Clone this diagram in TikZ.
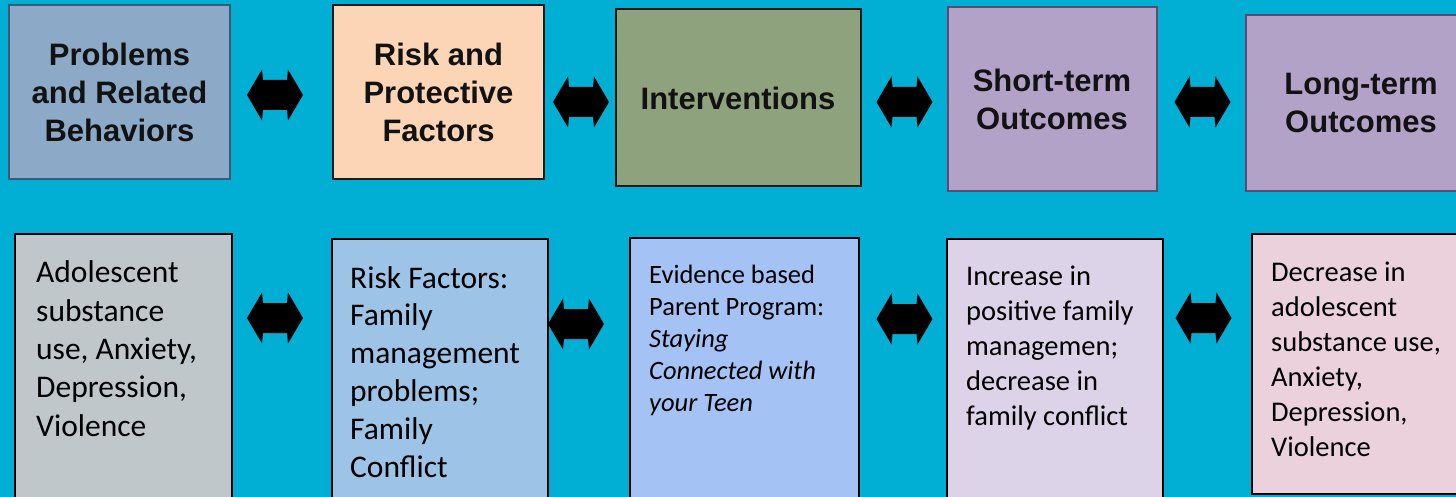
\documentclass[tikz,border=0pt]{standalone}
\usepackage{fontspec}
\newfontfamily\headfont{Liberation Sans}
\newfontfamily\bodyfont{Carlito}
\definecolor{bgc}{HTML}{00AFD3}
\definecolor{fa}{HTML}{8DA9C8}
\definecolor{da}{HTML}{3E5877}
\definecolor{fb}{HTML}{FBD5B5}
\definecolor{fc}{HTML}{8EA37D}
\definecolor{fd}{HTML}{B2A2C8}
\definecolor{dd}{HTML}{5C4A73}
\definecolor{ga}{HTML}{BFC7CB}
\definecolor{gb}{HTML}{9DC3E6}
\definecolor{gc}{HTML}{A5C2F4}
\definecolor{gd}{HTML}{DCD3E9}
\definecolor{ge}{HTML}{EAD1DC}
\tikzset{
  topbox/.style={rectangle, line width=2pt, inner sep=0pt, align=center,
    text=black!93, font=\headfont\bfseries\fontsize{31}{38}\selectfont},
  botbox/.style={rectangle, draw=black, line width=2pt, inner sep=0pt, anchor=north west},
  bigtext/.style={anchor=base west, inner sep=0pt, align=left,
    font=\bodyfont\fontsize{31.5}{38.3}\selectfont},
  midtext/.style={anchor=base west, inner sep=0pt, align=left,
    font=\bodyfont\fontsize{28.5}{35}\selectfont},
  smalltext/.style={anchor=base west, inner sep=0pt, align=left,
    font=\bodyfont\fontsize{26.5}{32}\selectfont},
  dblarrow/.pic={\fill[black] (-28,0) -- (-13,-25.5) -- (-12,-15) -- (12,-15) -- (13,-25.5)
      -- (28,0) -- (13,25.5) -- (12,15) -- (-12,15) -- (-13,25.5) -- cycle;}
}
\begin{document}
\begin{tikzpicture}[x=1pt,y=-1pt]
\useasboundingbox (0,0) rectangle (1456,497);
\clip (0,0) rectangle (1456,497);
\fill[bgc] (0,0) rectangle (1456,497);

% top row
\node[topbox, fill=fa, draw=da, minimum width=221pt, minimum height=174pt] (p1) at (119.5,92) {Problems\\and Related\\Behaviors};
\node[topbox, fill=fb, draw=black!90, minimum width=211pt, minimum height=174pt] (p2) at (438.5,92) {Risk and\\Protective\\Factors};
\node[topbox, fill=fc, draw=black!90, minimum width=245pt, minimum height=177pt] (p3) at (738,98) {Interventions};
\node[topbox, fill=fd, draw=dd, minimum width=209pt, minimum height=184pt] (p4) at (1052,99) {Short-term\\Outcomes};
\node[topbox, fill=fd, draw=dd, minimum width=230pt, minimum height=176pt] (p5) at (1361,103) {Long-term\\Outcomes};

\pic (a1) at (275,95) {dblarrow};
\pic (a2) at (581,102) {dblarrow};
\pic (a3) at (904.5,102) {dblarrow};
\pic (a4) at (1202.5,102) {dblarrow};

% bottom row
\node[botbox, fill=ga, minimum width=216.5pt, minimum height=290pt] (q1) at (14,233) {};
\node[botbox, fill=gb, minimum width=215.5pt, minimum height=290pt] (q2) at (331,238) {};
\node[botbox, fill=gc, minimum width=229pt, minimum height=290pt] (q3) at (628.5,237) {};
\node[botbox, fill=gd, minimum width=216pt, minimum height=290pt] (q4) at (946,238) {};
\node[botbox, fill=ge, minimum width=230pt, minimum height=260pt] (q5) at (1251,233) {};

% base anchor = baseline of the last line
\node[bigtext] (t1) at (36,436) {Adolescent\\substance\\use, Anxiety,\\Depression,\\Violence};
\node[bigtext, font=\bodyfont\fontsize{31.5}{37.8}\selectfont] (t2) at (350,477) {Risk Factors:\\Family\\management\\problems;\\Family\\Conflict};
\node[smalltext] (t3) at (649,411) {Evidence based\\Parent Program:\\\textit{Staying}\\\textit{Connected with}\\\textit{your Teen}};
\node[midtext] (t4) at (966,425) {Increase in\\positive family\\managemen;\\decrease in\\family conflict};
\node[midtext] (t5) at (1271,456) {Decrease in\\adolescent\\substance use,\\Anxiety,\\Depression,\\Violence};

\pic (b1) at (275,318) {dblarrow};
\pic (b2) at (576,324) {dblarrow};
\pic (b3) at (904.5,319) {dblarrow};
\pic (b4) at (1203.5,318) {dblarrow};
\end{tikzpicture}
\end{document}
